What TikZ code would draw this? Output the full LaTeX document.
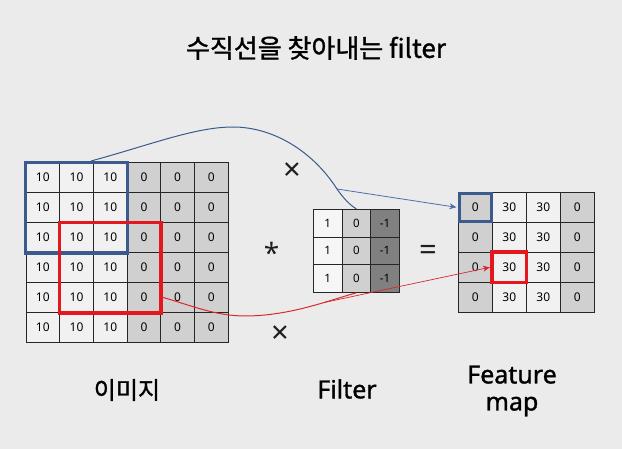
\documentclass[tikz,border=0pt]{standalone}
\usepackage{fontspec}
\setmainfont{Noto Sans}
\newfontfamily\krfont{Noto Sans CJK KR}[FakeBold=1.2]
\newfontfamily\labfont{Noto Sans}[FakeBold=1.2]
\usetikzlibrary{arrows.meta}
\definecolor{bgc}{HTML}{EBEBEB}
\definecolor{lightc}{HTML}{F1F1F1}
\definecolor{grayc}{HTML}{D0D0D0}
\definecolor{darkc}{HTML}{808080}
\definecolor{whitec}{HTML}{F6F6F6}
\definecolor{blueb}{HTML}{3B5A8E}
\definecolor{bluel}{HTML}{4D6EAE}
\definecolor{redb}{HTML}{E3171D}
\definecolor{redl}{HTML}{D9282E}
\definecolor{symc}{HTML}{1E1E1E}
\tikzset{
  cellbase/.style={draw=black!85, line width=0.8pt, inner sep=0pt, anchor=center,
    font=\fontsize{12}{13}\selectfont},
  imgcell/.style={cellbase, minimum width=33.7pt, minimum height=30pt},
  fltcell/.style={cellbase, minimum width=28.7pt, minimum height=27.7pt,
    font=\fontsize{11.5}{12}\selectfont},
  fmcell/.style={cellbase, minimum width=34pt, minimum height=30pt},
  bluebox/.style={draw=blueb, line width=3.3pt},
  redbox/.style={draw=redb, line width=3.5pt},
  bluecurve/.style={draw=blueb, line width=1pt},
  redcurve/.style={draw=redl, line width=1pt},
  bluearrow/.style={draw=bluel, line width=0.8pt, -{Stealth[length=7pt,width=6pt]}},
  redarrow/.style={draw=redl, line width=0.7pt, -{Stealth[length=7pt,width=6pt]}},
  symb/.style={font=\fontsize{31}{34}\selectfont, inner sep=0pt, anchor=base, text=symc},
  label/.style={font=\labfont\fontsize{25}{27}\selectfont, inner sep=0pt, align=center},
}
\begin{document}
\begin{tikzpicture}[x=1pt,y=-1pt]
\fill[bgc] (0,0) rectangle (622,449);
\useasboundingbox (0,0) rectangle (622,449);

% title
\node[font=\krfont\fontsize{26}{28}\selectfont, inner sep=0pt] (title) at (316,48) {수직선을 찾아내는 filter};

% image grid 6x6
\foreach \r in {1,...,6}{
  \foreach \c in {1,...,6}{
    \ifnum\c<4
      \node[imgcell, fill=lightc] (img-\r-\c) at ({26+33.7*(\c-0.5)},{162.7+30*(\r-0.5)}) {10};
    \else
      \node[imgcell, fill=grayc] (img-\r-\c) at ({26+33.7*(\c-0.5)},{162.7+30*(\r-0.5)}) {0};
    \fi
  }
}

% filter 3x3
\foreach \r in {1,2,3}{
  \node[fltcell, fill=whitec] (flt-\r-1) at ({313.3+28.7*0.5},{209.3+27.7*(\r-0.5)}) {1};
  \node[fltcell, fill=grayc]  (flt-\r-2) at ({313.3+28.7*1.5},{209.3+27.7*(\r-0.5)}) {0};
  \node[fltcell, fill=darkc]  (flt-\r-3) at ({313.3+28.7*2.5},{209.3+27.7*(\r-0.5)}) {-1};
}

% feature map 4x4
\foreach \r in {1,...,4}{
  \node[fmcell, fill=grayc]  (fm-\r-1) at ({458.3+34*0.5},{192.3+30*(\r-0.5)}) {0};
  \node[fmcell, fill=lightc] (fm-\r-2) at ({458.3+34*1.5},{192.3+30*(\r-0.5)}) {30};
  \node[fmcell, fill=lightc] (fm-\r-3) at ({458.3+34*2.5},{192.3+30*(\r-0.5)}) {30};
  \node[fmcell, fill=grayc]  (fm-\r-4) at ({458.3+34*3.5},{192.3+30*(\r-0.5)}) {0};
}

% highlight boxes
\draw[bluebox] (img-1-1.north west) rectangle (img-3-3.south east);
\draw[redbox] (img-3-2.north west) rectangle (img-5-4.south east);
\draw[bluebox, line width=3pt] ([shift={(1.2,1.2)}]fm-1-1.north west) rectangle ([shift={(-1.2,-1.2)}]fm-1-1.south east);
\draw[redbox, line width=3.3pt] (fm-3-2.north west) rectangle (fm-3-2.south east);

% symbols
\node[symb] (times1) at (292.7,180.5) {×};
\node[symb] (times2) at (280,344) {×};
\node[symb, font=\fontsize{28}{30}\selectfont] (conv) at (271.5,264) {*};
\node[symb] (eq) at (428.5,260.5) {=};

% curves
\coordinate (bstart) at (91,161);
\coordinate (bpeak) at (233,127);
\coordinate (bsplit) at (337,189);
\draw[bluecurve] (bstart) .. controls (150,145) and (195,127) .. (bpeak)
  .. controls (272,127) and (312,150) .. (bsplit)
  .. controls (344,199) and (350,205) .. (flt-1-2.north);
\draw[bluearrow] (bsplit) -- ([xshift=-1.5pt]fm-1-1.west);

\coordinate (rstart) at (161.5,297);
\coordinate (rlow) at (245,316);
\draw[redcurve] (rstart) .. controls (190,305) and (215,316) .. (rlow)
  .. controls (290,316) and (330,300) .. (flt-3-2.south) coordinate[pos=0.65] (rsplit);
\draw[redarrow] (rsplit) -- ([xshift=-2pt]fm-3-2.west);

% labels
\node[label, font=\krfont\fontsize{24}{26}\selectfont] (lab-img) at (127,390) {이미지};
\node[label] (lab-flt) at (347,389) {Filter};
\node[label] (lab-fm) at (512,391) {Feature\\map};
\end{tikzpicture}
\end{document}
